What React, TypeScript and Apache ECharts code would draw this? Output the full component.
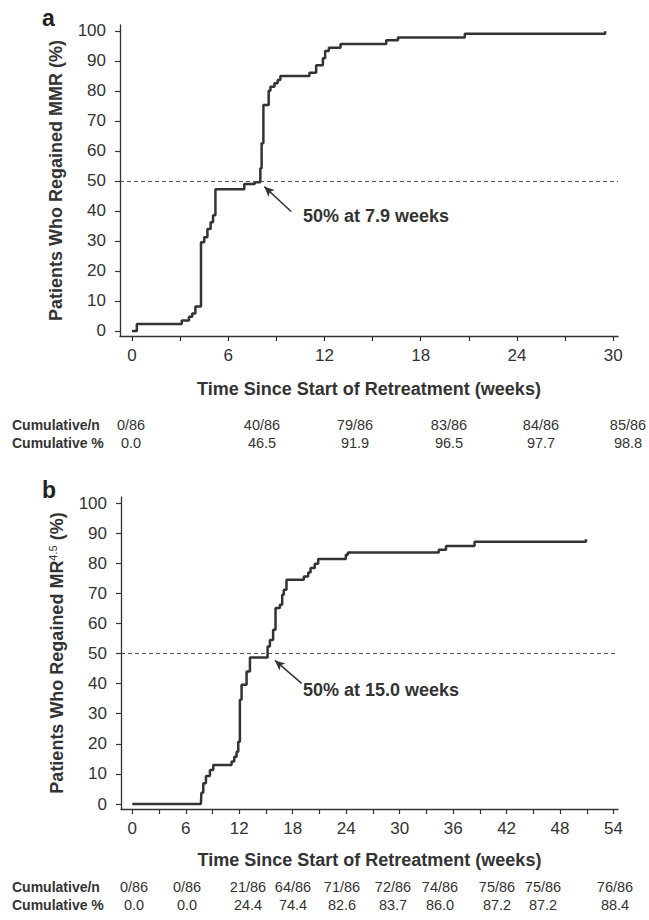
import React, { useEffect, useRef } from 'react';
import * as echarts from 'echarts';

// Panel a: time to regain MMR (weeks) and cumulative % (Kaplan-Meier steps)
const TIME_A = [0, 0.3, 3.1, 3.55, 3.75, 3.95, 4.3, 4.5, 4.7, 4.9, 5.05, 5.2, 7.0, 7.65, 8.0, 8.08, 8.19, 8.52, 8.63, 8.88, 9.08, 9.25, 11.06, 11.48, 11.9, 12.04, 12.27, 13.0, 15.85, 16.58, 20.75, 29.5, 29.5];
const PCT_A = [0, 2.3, 3.5, 4.7, 5.8, 8.1, 29.6, 31.2, 34.0, 36.2, 38.6, 47.2, 49.0, 49.6, 54.2, 62.6, 75.3, 80.1, 81.4, 82.6, 83.7, 85.0, 86.1, 88.6, 90.9, 93.3, 94.4, 95.7, 96.9, 97.8, 99.1, 99.1, 99.9];

// Panel b: time to regain MR4.5
const TIME_B = [0, 7.7, 7.75, 7.96, 8.26, 8.71, 9.08, 11.14, 11.44, 11.7, 11.89, 12.07, 12.26, 12.82, 13.2, 15.18, 15.44, 15.8, 16.07, 16.56, 16.82, 17.0, 17.3, 19.25, 19.73, 20.0, 20.48, 20.86, 23.96, 24.2, 34.4, 35.2, 38.4, 50.9, 50.9];
const PCT_B = [0, 0, 3.7, 6.9, 9.3, 11.3, 13.0, 14.1, 15.7, 17.4, 20.7, 34.6, 39.6, 44.0, 48.7, 52.3, 54.5, 57.9, 65.1, 66.2, 69.5, 71.2, 74.5, 75.6, 76.9, 78.4, 79.8, 81.4, 82.8, 83.6, 84.5, 85.7, 87.1, 87.1, 88.0];

const X_LABELS_A = [0, 6, 12, 18, 24, 30];
const X_TICKS_A = [0, 3, 6, 9, 12, 15, 18, 21, 24, 27, 30];
const X_LABELS_B = [0, 6, 12, 18, 24, 30, 36, 42, 48, 54];
const X_TICKS_B = [0, 3, 6, 9, 12, 15, 18, 21, 24, 27, 30, 33, 36, 39, 42, 45, 48, 51, 54];
const Y_LABELS = [0, 10, 20, 30, 40, 50, 60, 70, 80, 90, 100];

const TABLE_A_N = ['0/86', '40/86', '79/86', '83/86', '84/86', '85/86'];
const TABLE_A_PCT = ['0.0', '46.5', '91.9', '96.5', '97.7', '98.8'];
const TABLE_B_N = ['0/86', '0/86', '21/86', '64/86', '71/86', '72/86', '74/86', '75/86', '75/86', '76/86'];
const TABLE_B_PCT = ['0.0', '0.0', '24.4', '74.4', '82.6', '83.7', '86.0', '87.2', '87.2', '88.4'];

const MEDIAN_A = 7.9;
const MEDIAN_B = 15.0;
const THRESHOLD = 50;

// annotation arrows in data coordinates [week, %]
const ARROW_A = { from: [9.92, 39.8], to: [8.25, 48.1] };
const ARROW_B = { from: [19.0, 40.1], to: [16.0, 47.7] };

// layout (pixels) for the table columns
const TABLE_A_X = [131, 262, 355, 449, 541, 628];
const TABLE_B_X = [134, 187, 248, 293, 342, 393, 440, 497, 543, 615];

const FONT = 'Liberation Sans, Arial, Helvetica, sans-serif';
const INK = '#333333';

function zip(xs: number[], ys: number[]) {
  return xs.map((x, i) => [x, ys[i]]);
}

export default function App() {
  const ref = useRef<HTMLDivElement>(null);

  useEffect(() => {
    if (!ref.current) return;
    const chart = echarts.init(ref.current, null, { renderer: 'svg' });

    const xAxisBase = (gridIndex: number, min: number, max: number, labels: number[], ticks: number[], nameGap: number) => ({
      type: 'value',
      gridIndex,
      min,
      max,
      name: 'Time Since Start of Retreatment (weeks)',
      nameLocation: 'middle',
      nameGap,
      nameTextStyle: { fontFamily: FONT, fontWeight: 'bold', fontSize: 18, color: INK },
      axisLine: { show: true, onZero: false, lineStyle: { color: INK, width: 1.3 } },
      axisTick: { show: true, length: 5, customValues: ticks, lineStyle: { color: INK, width: 1.2 } },
      axisLabel: { customValues: labels, margin: 11, fontFamily: FONT, fontSize: 17, color: INK },
      splitLine: { show: false },
    });

    const yAxisBase = (gridIndex: number, min: number, max: number, name: string, rich: any) => ({
      type: 'value',
      gridIndex,
      min,
      max,
      name,
      nameLocation: 'middle',
      nameGap: 55,
      nameTextStyle: { fontFamily: FONT, fontWeight: 'bold', fontSize: 18, color: INK, rich },
      axisLine: { show: true, onZero: false, lineStyle: { color: INK, width: 1.3 } },
      axisTick: { show: true, length: 5, customValues: Y_LABELS, lineStyle: { color: INK, width: 1.2 } },
      axisLabel: { customValues: Y_LABELS, margin: 14, fontFamily: FONT, fontSize: 17, color: INK },
      splitLine: { show: false },
    });

    const markLineFor = (arrow: { from: number[]; to: number[] }) => ({
      silent: true,
      symbol: ['none', 'none'],
      label: { show: false },
      animation: false,
      data: [
        {
          yAxis: THRESHOLD,
          lineStyle: { type: [4, 3], color: '#555', width: 1 },
        },
        [
          { coord: arrow.from, symbol: 'none', lineStyle: { type: 'solid', color: INK, width: 1.5 } },
          { coord: arrow.to, symbol: 'arrow', symbolSize: [7, 10] },
        ],
      ],
    });

    const tableTexts = (xs: number[], values: string[], y: number) =>
      values.map((v, i) => ({
        type: 'text',
        x: xs[i],
        y,
        style: { text: v, fontFamily: FONT, fontSize: 14.5, fill: INK, align: 'center', verticalAlign: 'middle' },
      }));

    const headerText = (text: string, y: number) => ({
      type: 'text',
      x: 12,
      y,
      style: { text, fontFamily: FONT, fontSize: 14, fontWeight: 'bold', fill: INK, align: 'left', verticalAlign: 'middle' },
    });

    const option: any = {
      animation: false,
      backgroundColor: '#ffffff',
      grid: [
        { left: 120, top: 25, width: 498, height: 311 },
        { left: 121, top: 497, width: 497, height: 312 },
      ],
      xAxis: [
        xAxisBase(0, -0.75, 30.3, X_LABELS_A, X_TICKS_A, 44),
        xAxisBase(1, -1.27, 54.5, X_LABELS_B, X_TICKS_B, 42),
      ],
      yAxis: [
        yAxisBase(0, -1.7, 102, 'Patients Who Regained MMR (%)', undefined),
        yAxisBase(1, -1.66, 102, 'Patients Who Regained MR{sup|4.5} (%)', {
          sup: { fontFamily: FONT, fontSize: 11, fontWeight: 'normal', color: INK, verticalAlign: 'top', padding: [0, 0, 8, 0] },
        }),
      ],
      series: [
        {
          type: 'line',
          xAxisIndex: 0,
          yAxisIndex: 0,
          step: 'end',
          showSymbol: false,
          symbol: 'none',
          data: zip(TIME_A, PCT_A),
          lineStyle: { color: INK, width: 2.5 },
          markLine: markLineFor(ARROW_A),
          z: 3,
        },
        {
          type: 'line',
          xAxisIndex: 1,
          yAxisIndex: 1,
          step: 'end',
          showSymbol: false,
          symbol: 'none',
          data: zip(TIME_B, PCT_B),
          lineStyle: { color: INK, width: 2.5 },
          markLine: markLineFor(ARROW_B),
          z: 3,
        },
      ],
      graphic: [
        { type: 'text', x: 42, y: 18, style: { text: 'a', fontFamily: FONT, fontSize: 23, fontWeight: 'bold', fill: '#222', verticalAlign: 'middle' } },
        { type: 'text', x: 42, y: 490, style: { text: 'b', fontFamily: FONT, fontSize: 23, fontWeight: 'bold', fill: '#222', verticalAlign: 'middle' } },
        {
          type: 'text', x: 303, y: 216,
          style: { text: `50% at ${MEDIAN_A.toFixed(1)} weeks`, fontFamily: FONT, fontSize: 18, fontWeight: 'bold', fill: INK, verticalAlign: 'middle' },
        },
        {
          type: 'text', x: 303, y: 690,
          style: { text: `50% at ${MEDIAN_B.toFixed(1)} weeks`, fontFamily: FONT, fontSize: 18, fontWeight: 'bold', fill: INK, verticalAlign: 'middle' },
        },
        headerText('Cumulative/n', 425),
        headerText('Cumulative %', 443),
        ...tableTexts(TABLE_A_X, TABLE_A_N, 425),
        ...tableTexts(TABLE_A_X, TABLE_A_PCT, 443),
        headerText('Cumulative/n', 887),
        headerText('Cumulative %', 905),
        ...tableTexts(TABLE_B_X, TABLE_B_N, 887),
        ...tableTexts(TABLE_B_X, TABLE_B_PCT, 905),
      ],
    };

    chart.setOption(option);
    return () => chart.dispose();
  }, []);

  return (
    <div
      ref={ref}
      style={{ position: 'fixed', left: 0, top: 0, width: 649, height: 920, background: '#fff' }}
    />
  );
}
